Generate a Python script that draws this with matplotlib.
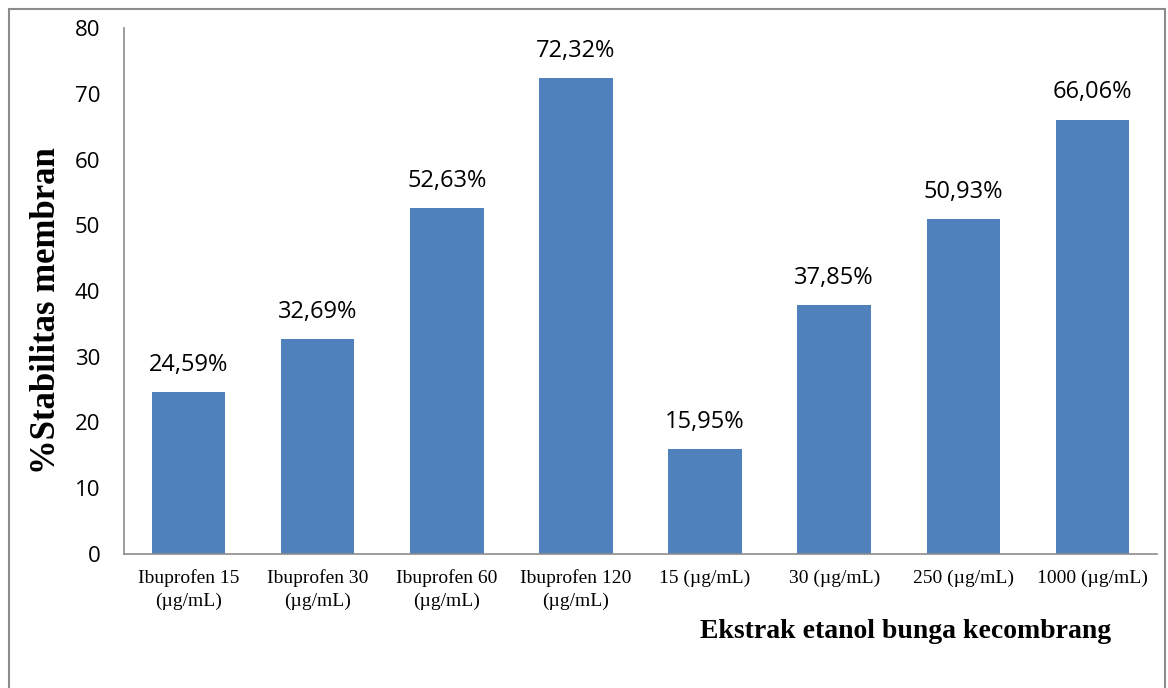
import matplotlib.pyplot as plt
from matplotlib.patches import Rectangle

# Membrane stability per treatment
categories = [
    "Ibuprofen 15\n(µg/mL)",
    "Ibuprofen 30\n(µg/mL)",
    "Ibuprofen 60\n(µg/mL)",
    "Ibuprofen 120\n(µg/mL)",
    "15 (µg/mL)",
    "30 (µg/mL)",
    "250 (µg/mL)",
    "1000 (µg/mL)",
]
stability = [24.59, 32.69, 52.63, 72.32, 15.95, 37.85, 50.93, 66.06]
y_ticks = [0, 10, 20, 30, 40, 50, 60, 70, 80]

BAR = "#4F81BD"
SANS = ["Open Sans", "DejaVu Sans"]
SERIF = ["Liberation Serif", "DejaVu Serif"]


def main():
    fig = plt.figure(figsize=(11.68, 6.88), dpi=100)
    ax = fig.add_axes([124 / 1168, 134 / 688, 1033 / 1168, 526 / 688])

    x = range(len(categories))
    ax.bar(x, stability, width=0.57, color=BAR, zorder=2)

    for xi, v in zip(x, stability):
        ax.annotate(f"{v:.2f}%".replace(".", ","), (xi, v),
                    xytext=(0, 11), textcoords="offset points",
                    ha="center", va="bottom", fontsize=17, family=SANS)

    ax.set_xlim(-0.5, len(categories) - 0.5)
    ax.set_ylim(0, 80)
    ax.set_yticks(y_ticks)
    ax.set_yticklabels([str(t) for t in y_ticks], family=SANS, fontsize=16)
    ax.set_xticks(list(x))
    ax.set_xticklabels(categories, family=SERIF, fontsize=14, linespacing=1.45)
    ax.tick_params(axis="both", length=0)
    ax.tick_params(axis="y", pad=17)
    ax.tick_params(axis="x", pad=11)

    for side in ("top", "right"):
        ax.spines[side].set_visible(False)
    for side in ("left", "bottom"):
        ax.spines[side].set_color("#8c8c8c")
        ax.spines[side].set_linewidth(1.2)

    fig.text(47 / 1168, 1 - 311 / 688, "%Stabilitas membran", rotation=90,
             ha="center", va="center", fontsize=25, fontweight="bold",
             family=SERIF)
    fig.text(906 / 1168, 1 - 632 / 688, "Ekstrak etanol bunga kecombrang",
             ha="center", va="center", fontsize=20, fontweight="bold",
             family=SERIF)

    # chart area frame
    fig.patches.append(Rectangle((9 / 1168, -0.01), 1156 / 1168, 1 - 9 / 688 + 0.01,
                                 transform=fig.transFigure, fill=False,
                                 edgecolor="#8c8c8c", linewidth=1.5))

    fig.savefig("out.png", dpi=100)
    plt.close(fig)


if __name__ == "__main__":
    main()
